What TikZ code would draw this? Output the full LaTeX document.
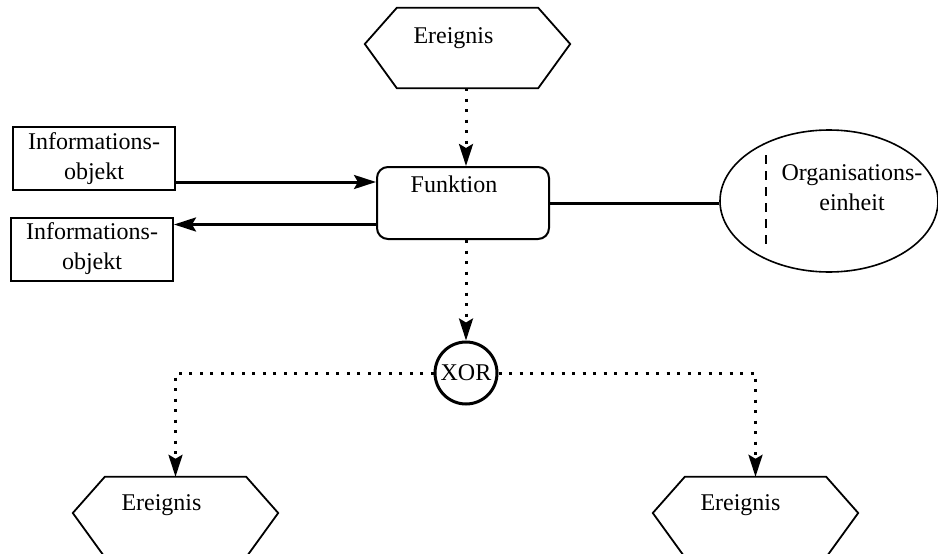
\documentclass[tikz,border=0pt]{standalone}
\usepackage{fontspec}
\setmainfont{Liberation Serif}
\usetikzlibrary{arrows.meta,shapes.geometric,calc}

% hexagonal event outline drawn inside an invisible frame node
\newcommand\eventhex[1]{%
  \draw[eventline] ($(#1.north west)+(32,0)$) -- ($(#1.north east)+(-32,0)$)
    -- ($(#1.east)+(0,-4)$) -- ($(#1.south east)+(-32,0)$)
    -- ($(#1.south west)+(32,0)$) -- ($(#1.west)+(0,-4)$) -- cycle;}

\tikzset{
  txt/.style={font=\fontsize{24pt}{30pt}\selectfont, inner sep=0pt, align=center},
  infobox/.style={txt, draw, line width=2pt, minimum width=162pt, minimum height=63pt},
  funcbox/.style={draw, line width=2pt, rounded corners=11pt, minimum width=172pt,
    minimum height=72pt, inner sep=0pt},
  eventframe/.style={minimum width=205pt, minimum height=80pt, inner sep=0pt},
  eventline/.style={line width=1.8pt, line join=miter},
  orgshape/.style={draw, ellipse, line width=1.6pt, minimum width=218pt,
    minimum height=142pt, inner sep=0pt},
  xorshape/.style={txt, draw, circle, line width=3pt, minimum size=62pt},
  flowtip/.style={-{Stealth[length=22pt,width=14pt,inset=4pt]}},
  flow/.style={flowtip, line width=3pt},
  ctrl/.style={flowtip, line width=3pt, dash pattern=on 3pt off 7.5pt},
}

\begin{document}
\begin{tikzpicture}[x=1pt,y=-1pt]
\useasboundingbox (0,0) rectangle (938,554);
\clip (0,0) rectangle (938,554);

% events
\node[eventframe] (e0) at (467.5,48) {};
\node[eventframe] (e1) at (175.5,517) {};
\node[eventframe] (e2) at (755.5,517) {};
\eventhex{e0}
\eventhex{e1}
\eventhex{e2}
\node[txt] (e0t) at ($(e0.center)+(-14,-10)$) {Ereignis};
\node[txt] (e1t) at ($(e1.center)+(-14,-12)$) {Ereignis};
\node[txt] (e2t) at ($(e2.center)+(-15,-12)$) {Ereignis};

% function
\node[funcbox] (f) at (463,203) {};
\node[txt] (ft) at (454,184) {Funktion};

% information objects
\node[infobox] (i1) at (94,158.5) {Informations-\\objekt};
\node[infobox] (i2) at (92,249) {Informations-\\objekt};

% organisational unit
\node[orgshape] (o) at (829,201) {};
\node[txt] (ot) at (852,188) {Organisations-\\einheit};
\draw[line width=2.2pt, dash pattern=on 9pt off 7pt]
  ($(o.center)+(-63,-46)$) -- ($(o.center)+(-63,47)$);

% connector
\node[xorshape] (x) at (466,373) {XOR};

% control flow
\draw[ctrl] (e0.south -| x.north) -- (f.north -| x.north);
\draw[ctrl] (f.south -| x.north) -- (x.north);
\draw[ctrl] (x.west) -| (e1.north);
\draw[ctrl] (x.east) -| (e2.north);

% data flow and assignment
\coordinate (a1) at ($(i1.south east)+(0,-9)$);
\coordinate (a2) at ($(i2.north east)+(0,8)$);
\draw[flow] (a1) -- (a1 -| f.west);
\draw[flow] (a2 -| f.west) -- (a2);
\draw[line width=3pt] (f.east) -- (f.east -| o.west);
\end{tikzpicture}
\end{document}
